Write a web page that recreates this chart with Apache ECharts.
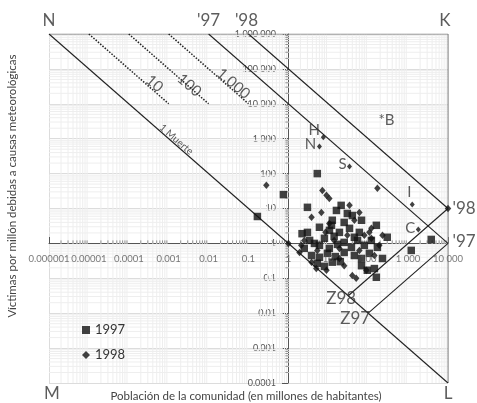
<!DOCTYPE html>
<html><head><meta charset="utf-8">
<script src="https://cdn.jsdelivr.net/npm/echarts@6/dist/echarts.min.js"></script>
<style>html,body{margin:0;padding:0;background:#fff}#c{width:477px;height:403px}</style>
</head><body><div id="c"></div>
<script>
// Tick labels
const xTickValues = [0.000001,0.00001,0.0001,0.001,0.01,0.1,1,10,100,1000,10000];
const xTickLabels = ['0.000001','0.00001','0.0001','0.001','0.01','0.1','1','10','100','1 000','10 000'];
const yTickLabels = ['0.0001','0.001','0.01','0.1','1','10','100','1 000','10 000','100 000','1 000 000'];
const minorMultipliers = [2,3,4,5,6,7,8,9];

// Series: [population (millions), victims per million]
const data1997 = [[0.167,5.9],[0.75,25],[5.3,100],[3.0,10.8],[16,8.8],[30,7.2],[40,6.3],[12.6,4.6],[12,3.3],[10.7,2.36],
  [68,4.6],[160,3.3],[1200,0.63],[3800,1.3],[300,1.5],[3.4,1.22],[4.5,1.0],[2.5,0.72],[6.0,0.88],[8.0,1.4],
  [10.6,0.72],[17,0.94],[25,1.07],[38,0.77],[54,1.22],[80,0.88],[120,1.22],[170,0.77],[3.8,0.45],[6.0,0.40],
  [9.5,0.52],[15,0.42],[25,0.55],[45,0.45],[68,0.37],[107,0.52],[5.3,0.27],[8.0,0.22],[68,0.23],[95,0.17],
  [143,0.19],[160,0.107],[2.2,1.9],[19,2.07],[34,2.7],[60,2.07],[6.0,2.9],[25,4.0],[21,12.3],[228,0.37],
  [12.6,0.29],[3.0,2.07],[14,1.6],[45,1.5],[20,0.3]];
const data1998 = [[0.28,46],[1,1],[7.1,33],[9.0,24],[10.6,19.5],[170,38],[10000,10],[3.8,5.6],[6.7,7.7],[34,12.3],
  [107,2.07],[80,1.7],[120,2.7],[120,1.4],[25,0.23],[40,0.12],[50,0.1],[90,0.17],[5.0,0.19],[9.0,0.17],
  [14,1.22],[5.3,0.63],[19,0.37],[60,0.63],[143,0.45],[2.5,1.22],[1.9,0.55],[8.5,2.07],[45,4.6],[60,7.7],
  [190,0.88],[228,1.7],[3.8,0.29],[30,1.7],[19,0.72],[10.6,3.7],[2.1,0.88]];
const labelled1998 = [[7.5,1100,'H'],[6.0,600,'N'],[34,160,'S'],[1270,13,'I'],[1800,2.5,'C']];
const labelledOffsets = {H:[-9,-7],N:[-9,-2],S:[-7,-2],I:[-3,-12],C:[-8,-1]};
const pointB = [288,3340,'*B'];

// Reference lines
const line1Muerte = [[1e-6,1e6],[1e4,1e-4]];
const line97 = [[0.01,1e6],[1e4,1]];
const line98 = [[0.1,1e6],[1e4,10]];
const lineZ98 = [[31.62,0.03162],[1e4,10]];
const lineZ97 = [[100,0.01],[1e4,1]];
const dotted10 = [[1e-5,1e6],[1e-3,1e4]];
const dotted100 = [[1e-4,1e6],[1e-2,1e4]];
const dotted1000 = [[1e-3,1e6],[1e-1,1e4]];
const frame = [[1e-6,1e6],[1e4,1e6],[1e4,1e-4]];

// Text annotations at data positions
const lineTexts = [[4.4e-4,3.8e4,'10',15],[3.3e-3,3.4e4,'100',15],[0.042,3.8e4,'1.000',15],[1.55e-3,950,'1 Muerte',10]];
const cornerTexts = [
  [1e-6,1e6,'N','top',[0,0]],[1e4,1e6,'K','top',[-3,0]],[1e-6,1e-4,'M','bottom',[3,-2]],[1e4,1e-4,'L','bottom',[0,-2]],
  [0.01,1e6,"'97",'top',[0,0]],[0.1,1e6,"'98",'top',[-2,0]],[1e4,10,"'98",'right',[0,0]],[1e4,1,"'97",'right',[0,-2]],
  [31.62,0.03162,'Z98','inside',[-7,3]],[100,0.01,'Z97','inside',[-13,5]]
];

const FONT = 'Lato, "Open Sans", sans-serif';
const DARK = '#222';
const HIDDEN = {symbol:'circle', symbolSize:1, itemStyle:{color:'rgba(0,0,0,0)'}, silent:true, z:6, type:'scatter'};

function lineSeries(data, type, width) {
  return {type:'line', data:data, symbol:'none', silent:true, z:3, animation:false,
    lineStyle:{color:DARK, width:width||1.1, type:type||'solid'}};
}

const chart = echarts.init(document.getElementById('c'));
chart.setOption({
  animation:false,
  backgroundColor:'#fff',
  grid:{left:49, right:29, top:34, bottom:20, containLabel:false, outerBoundsMode:'none'},
  legend:{left:77, top:318, orient:'vertical', itemWidth:8, itemHeight:8, itemGap:11,
    textStyle:{fontSize:13, color:'#333', fontFamily:FONT, lineHeight:14},
    data:[{name:'1997', icon:'rect'},{name:'1998', icon:'diamond'}]},
  xAxis:{type:'log', logBase:10, min:1e-6, max:1e4, splitNumber:10, position:'bottom', offset:-140,
    axisLine:{show:true, lineStyle:{color:'#555', width:1}},
    axisTick:{show:true, inside:true, length:6, lineStyle:{color:'#555'}},
    axisLabel:{show:false},
    splitLine:{show:true, lineStyle:{color:'#dcdcdc', width:1}}},
  yAxis:{type:'log', logBase:10, min:1e-4, max:1e6, splitNumber:10, position:'left', offset:-239,
    axisLine:{show:true, lineStyle:{color:'#555', width:1}},
    axisTick:{show:true, inside:false, length:6, lineStyle:{color:'#555'}},
    axisLabel:{fontSize:9, color:'#555', fontFamily:FONT, margin:12,
      formatter:function(v){return yTickLabels[Math.round(Math.log10(v))+4];}},
    splitLine:{show:true, lineStyle:{color:'#dcdcdc', width:1}}},
  graphic:[
    {type:'text', style:{text:'Población de la comunidad (en millones de habitantes)', x:246, y:396,
      textAlign:'center', textVerticalAlign:'middle', fontSize:11.5, fontFamily:FONT, fill:'#444'}},
    {type:'text', rotation:Math.PI/2, x:12, y:186, style:{text:'Víctimas por millón debidas a causas meteorológicas',
      x:0, y:0, textAlign:'center', textVerticalAlign:'middle', fontSize:11.5, fontFamily:FONT, fill:'#444'}}
  ],
  series:[
    {type:'custom', silent:true, z:1, data:[[1,1]], renderItem:function(params, api){
      const cs = params.coordSys; const ch = [];
      const origin = api.coord([1,1]);
      for (let e=-6; e<4; e++) for (const m of minorMultipliers) {
        const p = api.coord([m*Math.pow(10,e),1]);
        ch.push({type:'line', shape:{x1:p[0],y1:cs.y,x2:p[0],y2:cs.y+cs.height}, style:{stroke:'#eeeeee', lineWidth:1}});
        ch.push({type:'line', shape:{x1:p[0],y1:origin[1],x2:p[0],y2:origin[1]-3}, style:{stroke:'#777', lineWidth:0.8}});
      }
      for (let e=-4; e<6; e++) for (const m of minorMultipliers) {
        const p = api.coord([1,m*Math.pow(10,e)]);
        ch.push({type:'line', shape:{x1:cs.x,y1:p[1],x2:cs.x+cs.width,y2:p[1]}, style:{stroke:'#eeeeee', lineWidth:1}});
        ch.push({type:'line', shape:{x1:origin[0],y1:p[1],x2:origin[0]-3,y2:p[1]}, style:{stroke:'#777', lineWidth:0.8}});
      }
      return {type:'group', children:ch};
    }},
    Object.assign(lineSeries(frame,'solid',1), {lineStyle:{color:'#888', width:1}}),
    lineSeries(line1Muerte),
    lineSeries(line97),
    lineSeries(line98),
    lineSeries(lineZ98),
    lineSeries(lineZ97),
    lineSeries(dotted10,'dotted',1.5),
    lineSeries(dotted100,'dotted',1.5),
    lineSeries(dotted1000,'dotted',1.5),
    {name:'1997', type:'scatter', data:data1997, symbol:'rect', symbolSize:7.5, z:5,
      itemStyle:{color:'#111'}},
    {name:'1998', type:'scatter', data:data1998, symbol:'diamond', symbolSize:[6.5,7.5], z:5,
      itemStyle:{color:'#111'}},
    {name:'1998', type:'scatter', symbol:'diamond', symbolSize:[5,6], z:6, itemStyle:{color:'#111'},
      data:labelled1998.map(function(d){return {value:[d[0],d[1]],
        label:{show:true, position:'inside', offset:labelledOffsets[d[2]], formatter:d[2], fontSize:15, color:'#333', fontFamily:FONT}};})},
    // x-axis tick labels along the crossing axis (y = 1)
    Object.assign({}, HIDDEN, {data:xTickValues.map(function(v,i){return {value:[v,1],
      label:{show:true, position:'bottom', distance:10, formatter:xTickLabels[i], fontSize:9.5, color:'#555', fontFamily:FONT}};})}),
    Object.assign({}, HIDDEN, {data:[{value:[pointB[0],pointB[1]],
      label:{show:true, position:'inside', formatter:pointB[2], fontSize:15, color:'#333', fontFamily:FONT}}]}),
    Object.assign({}, HIDDEN, {data:lineTexts.map(function(t){return {value:[t[0],t[1]],
      label:{show:true, position:'inside', rotate:-41, fontSize:t[3], formatter:t[2], color:'#333', fontFamily:FONT}};})}),
    Object.assign({}, HIDDEN, {data:cornerTexts.map(function(t){return {value:[t[0],t[1]],
      label:{show:true, position:t[3], offset:t[4], formatter:t[2], distance:4, fontSize:17, color:'#333', fontFamily:FONT}};})})
  ]
});
</script></body></html>
